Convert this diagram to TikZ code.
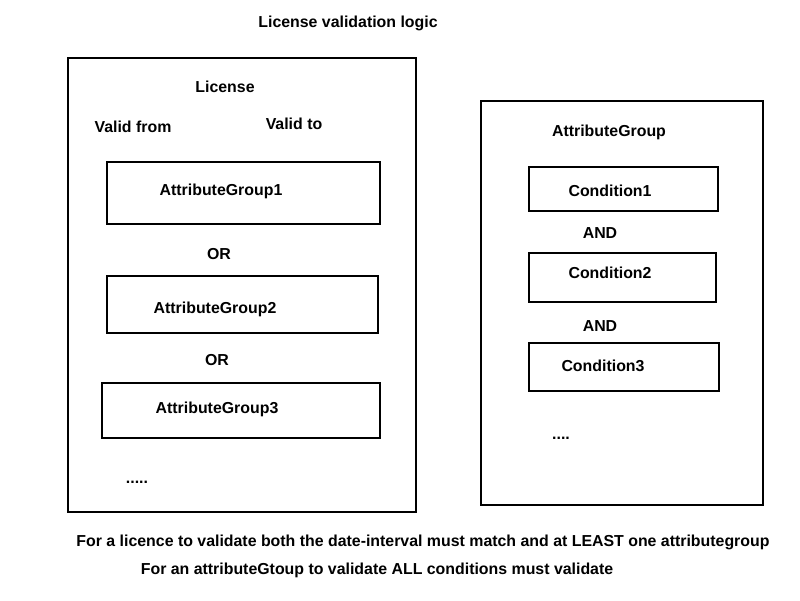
\documentclass[tikz,border=0pt]{standalone}
\usepackage{fontspec}
\setmainfont{Liberation Sans}
\usepackage{tikz}
\usetikzlibrary{calc}

\begin{document}
\begin{tikzpicture}[x=0.025cm, y=-0.025cm,
    lbl/.style={font=\bfseries\fontsize{11.3}{13}\selectfont, inner sep=0pt},
    box/.style={draw, line width=1.3pt, inner sep=0pt, rectangle}]
    \useasboundingbox (0,0) rectangle (800,600);

    \node[lbl] (title) at (348,23) {License validation logic};

    % license side
    \node[box, minimum width=348*0.025cm, minimum height=454*0.025cm] (lic) at (242,285) {};
    \node[lbl] (licname) at (225,87) {License};
    \node[lbl] (from) at (133,127) {Valid from};
    \node[lbl] (to) at (294,124) {Valid to};

    \node[box, minimum width=273*0.025cm, minimum height=62*0.025cm] (grp1) at (243.5,193) {};
    \node[lbl] at (221,191) {AttributeGroup1};
    \node[lbl] (or1) at (219,254) {OR};
    \node[box, minimum width=271*0.025cm, minimum height=57*0.025cm] (grp2) at (242.5,304.5) {};
    \node[lbl] at (215,309) {AttributeGroup2};
    \node[lbl] (or2) at (217,360) {OR};
    \node[box, minimum width=278*0.025cm, minimum height=55*0.025cm] (grp3) at (241,410.5) {};
    \node[lbl] at (217,409) {AttributeGroup3};
    \node[lbl] (moregrp) at (137,482) {.....};

    % attributegroup side
    \node[box, minimum width=282*0.025cm, minimum height=404*0.025cm] (grp) at (622,303) {};
    \node[lbl] (grpname) at (609,132) {AttributeGroup};

    \node[box, minimum width=189*0.025cm, minimum height=44*0.025cm] (cond1) at (623.5,189) {};
    \node[lbl] at (610,191) {Condition1};
    \node[lbl] (and1) at (600,233) {AND};
    \node[box, minimum width=187*0.025cm, minimum height=49*0.025cm] (cond2) at (622.5,277.5) {};
    \node[lbl] at (610,273) {Condition2};
    \node[lbl] (and2) at (600,326) {AND};
    \node[box, minimum width=190*0.025cm, minimum height=48*0.025cm] (cond3) at (624,367) {};
    \node[lbl] at (603,366) {Condition3};
    \node[lbl] (morecond) at (561,438) {....};

    % notes
    \node[lbl] (note1) at (423,542) {For a licence to validate both the date-interval must match and at LEAST one attributegroup};
    \node[lbl] (note2) at (377,570) {For an attributeGtoup to validate ALL conditions must validate};
\end{tikzpicture}
\end{document}
